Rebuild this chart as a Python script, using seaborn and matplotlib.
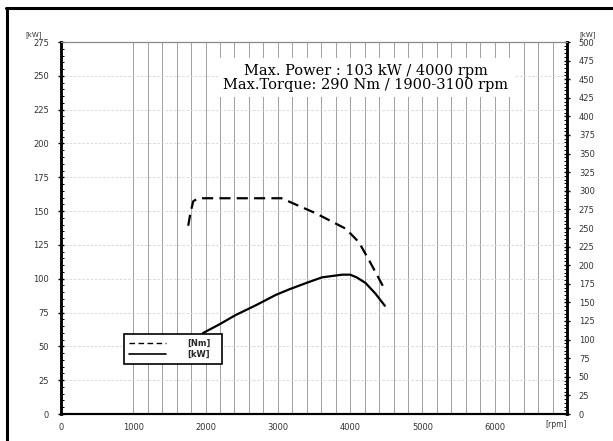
import matplotlib
matplotlib.use('Agg')
import matplotlib.pyplot as plt
import seaborn as sns
import numpy as np
from matplotlib.lines import Line2D
from matplotlib.ticker import MultipleLocator

# Данные кривых
power_rpm = [1750, 1970, 2200, 2410, 2700, 2970, 3150, 3400, 3610, 3890, 4000, 4090, 4210, 4350, 4480]
power_kw = [46, 60, 66.5, 73, 80.5, 88, 92, 97, 101, 103, 103, 101, 97, 89, 80]

torque_rpm = [1760, 1790, 1830, 1900, 3050, 3190, 3520, 3940, 4120, 4260, 4470]
torque_nm = [253, 270, 286, 290, 290, 284, 270, 249, 231, 207, 169]

x_ticks = [0, 1000, 2000, 3000, 4000, 5000, 6000]
kw_ticks = list(range(0, 276, 25))
nm_ticks = list(range(0, 501, 25))

info_text = "Max. Power : 103 kW / 4000 rpm\nMax.Torque: 290 Nm / 1900-3100 rpm"

sns.set_style('white')
plt.rcParams['font.family'] = ['DejaVu Sans']

fig = plt.figure(figsize=(6.13, 4.41), dpi=100)
ax = fig.add_axes([61/613, 27/441, 506/613, 372/441])
ax2 = ax.twinx()

# Кривые
sns.lineplot(x=power_rpm, y=power_kw, ax=ax, color='black', linewidth=1.6, estimator=None)
sns.lineplot(x=torque_rpm, y=torque_nm, ax=ax2, color='black', linewidth=1.6,
             estimator=None, dashes=False)
ax2.lines[0].set_dashes((5, 2.8))

ax.set_xlim(0, 7000)
ax.set_ylim(0, 275)
ax2.set_ylim(0, 500)

# Сетка
ax.vlines(np.arange(1000, 7000, 200), 0, 275, color='#909090', linewidth=0.6, zorder=0)
for v in kw_ticks[1:]:
    ax.axhline(v, color='#d4d4d4', linewidth=0.6, linestyle=(0, (3, 2)), zorder=0)

# Оси и деления
ax.set_xticks(x_ticks)
ax.xaxis.set_minor_locator(MultipleLocator(200))
ax.set_yticks(kw_ticks)
ax.yaxis.set_minor_locator(MultipleLocator(5))
ax2.set_yticks(nm_ticks)
ax2.yaxis.set_minor_locator(MultipleLocator(5))

for a in (ax, ax2):
    a.tick_params(which='major', direction='inout', length=5, width=1, colors='black',
                  labelsize=6, labelcolor='#333333')
    a.tick_params(which='minor', direction='in', length=2.5, width=0.7, colors='black')
ax.tick_params(axis='x', pad=4)
ax.tick_params(axis='y', pad=6)
ax2.tick_params(axis='y', pad=6)

for a in (ax, ax2):
    a.spines['left'].set_linewidth(1.8)
    a.spines['left'].set_color('black')
    a.spines['right'].set_linewidth(1.8)
    a.spines['right'].set_color('black')
    a.spines['bottom'].set_linewidth(1.5)
    a.spines['bottom'].set_color('black')
    a.spines['top'].set_linewidth(0.8)
    a.spines['top'].set_color('#888888')

ax.set_xlabel('')
ax.set_ylabel('')
ax2.set_ylabel('')

ax.text(-0.055, 1.01, '[kW]', transform=ax.transAxes, fontsize=5, color='#333333',
        ha='center', va='bottom')
ax2.text(1.04, 1.01, '[kW]', transform=ax2.transAxes, fontsize=5, color='#333333',
         ha='center', va='bottom')
ax.text(6850, -4.2, '[rpm]', fontsize=5.5, color='#333333', ha='center', va='top')

# Подпись с характеристиками
ax2.text(4220, 452, info_text, fontsize=10.5, family='DejaVu Serif', color='black',
         ha='center', va='center', linespacing=1.0, zorder=10,
         bbox=dict(facecolor='white', edgecolor='none', pad=4))

# Легенда
handles = [Line2D([], [], color='black', linewidth=1.0, dashes=(4, 2.5)),
           Line2D([], [], color='black', linewidth=1.2)]
leg = ax2.legend(handles, ['[Nm]', '[kW]'], loc='lower left',
                 bbox_to_anchor=(0.1245, 0.134, 0.1935, 0.086), mode='expand',
                 borderaxespad=0, fancybox=False, framealpha=1, edgecolor='black',
                 prop={'size': 6, 'weight': 'bold'}, handlelength=4.5,
                 labelspacing=0.3, borderpad=0.6, handletextpad=2.5)
leg.get_frame().set_linewidth(1.2)
leg.set_zorder(20)

# Рамка скана
fig.add_artist(Line2D([7/613, 7/613], [0, 1 - 8/441], color='black', linewidth=2.2))
fig.add_artist(Line2D([6/613, 1], [1 - 8/441, 1 - 8/441], color='black', linewidth=2.2))

fig.savefig('out.png', dpi=100)
